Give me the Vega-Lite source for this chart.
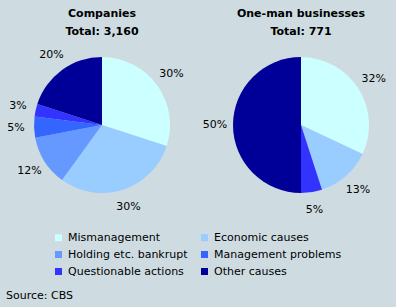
{
  "$schema": "https://vega.github.io/schema/vega-lite/v6.json",
  "background": "#cedce2",
  "padding": {"left": 6, "top": 8, "right": 0, "bottom": 6},
  "config": {
    "view": {"stroke": null},
    "font": "DejaVu Sans",
    "concat": {"spacing": 4},
    "title": {"fontSize": 11, "fontWeight": "bold", "lineHeight": 18, "color": "#000000", "offset": 8}
  },
  "datasets": {
    "companies": [
      {"cause": "Mismanagement", "k": 1, "pct": 30, "label": "30%"},
      {"cause": "Economic causes", "k": 2, "pct": 30, "label": "30%"},
      {"cause": "Holding etc. bankrupt", "k": 3, "pct": 12, "label": "12%"},
      {"cause": "Management problems", "k": 4, "pct": 5, "label": "5%"},
      {"cause": "Questionable actions", "k": 5, "pct": 3, "label": "3%"},
      {"cause": "Other causes", "k": 6, "pct": 20, "label": "20%"}
    ],
    "oneman": [
      {"cause": "Mismanagement", "k": 1, "pct": 32, "label": "32%"},
      {"cause": "Economic causes", "k": 2, "pct": 13, "label": "13%"},
      {"cause": "Questionable actions", "k": 5, "pct": 5, "label": "5%"},
      {"cause": "Other causes", "k": 6, "pct": 50, "label": "50%"}
    ]
  },
  "hconcat": [
    {
      "title": {"text": ["Companies", "Total: 3,160"]},
      "width": 192,
      "height": 160,
      "data": {"name": "companies"},
      "encoding": {
        "theta": {"field": "pct", "type": "quantitative", "stack": true},
        "order": {"field": "k", "type": "quantitative"}
      },
      "layer": [
        {
          "mark": {"type": "arc", "outerRadius": 68, "strokeWidth": 0},
          "encoding": {
            "color": {
              "field": "cause", "type": "nominal",
              "scale": {
                "domain": ["Mismanagement", "Economic causes", "Holding etc. bankrupt", "Management problems", "Questionable actions", "Other causes"],
                "range": ["#ccffff", "#99ccff", "#6699ff", "#3366ff", "#3333ff", "#000099"]
              },
              "legend": {
                "title": null, "orient": "none", "legendX": 47, "legendY": 187,
                "direction": "horizontal",
                "columns": 2, "columnPadding": 11, "rowPadding": 5,
                "labelFontSize": 11, "labelColor": "#000000", "labelLimit": 200,
                "symbolType": "square", "symbolSize": 49, "symbolStrokeWidth": 0
              }
            }
          }
        },
        {
          "mark": {"type": "text", "radius": 86, "fontSize": 11, "color": "#000000"},
          "encoding": {"text": {"field": "label", "type": "nominal"}}
        }
      ]
    },
    {
      "title": {"text": ["One-man businesses", "Total: 771"]},
      "width": 192,
      "height": 160,
      "data": {"name": "oneman"},
      "encoding": {
        "theta": {"field": "pct", "type": "quantitative", "stack": true},
        "order": {"field": "k", "type": "quantitative"}
      },
      "layer": [
        {
          "mark": {"type": "arc", "outerRadius": 68, "strokeWidth": 0},
          "encoding": {
            "color": {"field": "cause", "type": "nominal"}
          }
        },
        {
          "mark": {"type": "text", "radius": 86, "fontSize": 11, "color": "#000000"},
          "encoding": {"text": {"field": "label", "type": "nominal"}}
        }
      ]
    }
  ],
  "title": {"text": "Source: CBS", "orient": "bottom", "anchor": "start", "fontWeight": "normal", "fontSize": 11, "offset": 13}
}
